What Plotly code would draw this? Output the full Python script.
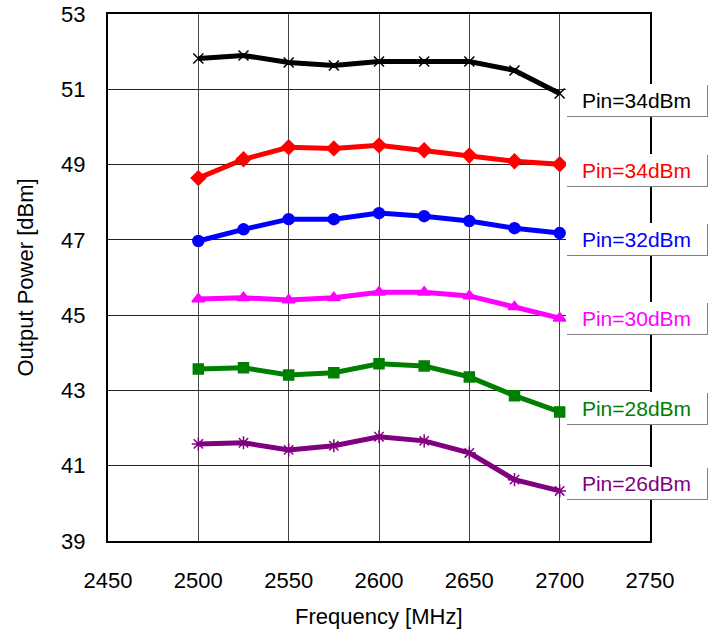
import plotly.graph_objects as go

freq = [2500, 2525, 2550, 2575, 2600, 2625, 2650, 2675, 2700]
p34a = [51.82, 51.90, 51.71, 51.63, 51.74, 51.74, 51.74, 51.50, 50.89]
p34b = [48.64, 49.14, 49.46, 49.43, 49.51, 49.38, 49.24, 49.09, 49.01]
p32 = [46.97, 47.28, 47.55, 47.55, 47.71, 47.63, 47.50, 47.31, 47.18]
p30 = [45.43, 45.46, 45.40, 45.46, 45.61, 45.61, 45.51, 45.22, 44.92]
p28 = [43.57, 43.60, 43.41, 43.47, 43.71, 43.65, 43.36, 42.86, 42.43]
p26 = [41.58, 41.61, 41.42, 41.53, 41.77, 41.66, 41.34, 40.63, 40.33]

series = [
    ("Pin=34dBm", p34a, "#000000", "x-thin-open", 10),
    ("Pin=34dBm", p34b, "#ff0000", "diamond", 11),
    ("Pin=32dBm", p32, "#0000ff", "circle", 11),
    ("Pin=30dBm", p30, "#ff00ff", "triangle-up", 11),
    ("Pin=28dBm", p28, "#008000", "square", 10),
    ("Pin=26dBm", p26, "#800080", "asterisk-open", 11),
]
label_y = [50.71, 48.85, 47.02, 44.92, 42.54, 40.55]

fig = go.Figure()
for (name, ys, col, sym, sz) in series:
    fig.add_trace(go.Scatter(
        x=freq, y=ys, mode="lines+markers", name=name,
        line=dict(color=col, width=5),
        marker=dict(symbol=sym, size=sz, color=col,
                    line=dict(color=col, width=1.5)),
        showlegend=False,
    ))

lab_font = "Liberation Sans, Arial"
for (name, ys, col, sym, sz), ly in zip(series, label_y):
    # gray "shadow" box giving right and bottom edges
    fig.add_annotation(
        x=1.0, xref="paper", y=ly, yref="y", xanchor="left", yanchor="middle",
        xshift=-83, yshift=-1, text=" ", showarrow=False,
        bgcolor="#808080", borderwidth=0, borderpad=0,
        width=141, height=32,
    )
    fig.add_annotation(
        x=1.0, xref="paper", y=ly, yref="y", xanchor="left", yanchor="middle",
        xshift=-84, text=name, showarrow=False,
        font=dict(family=lab_font, size=21, color=col),
        bgcolor="white", borderwidth=0, borderpad=0,
        width=141, height=32,
    )

axis_font = dict(family=lab_font, size=22, color="black")

# axis titles
fig.add_annotation(
    x=0.5, xref="paper", y=0, yref="paper", xanchor="center", yanchor="middle",
    yshift=-75, text="Frequency [MHz]", showarrow=False, font=axis_font,
)
fig.add_annotation(
    x=0, xref="paper", y=0.5, yref="paper", xanchor="center", yanchor="middle",
    xshift=-83, text="Output Power [dBm]", textangle=-90, showarrow=False,
    font=axis_font,
)

fig.update_layout(
    width=715, height=634,
    margin=dict(l=108, r=65, t=14, b=93, autoexpand=False),
    paper_bgcolor="white", plot_bgcolor="white",
    xaxis=dict(
        range=[2450, 2750], dtick=50, tick0=2450,
        showgrid=True, gridcolor="#444444", gridwidth=1,
        showline=True, linecolor="black", linewidth=2, mirror=True,
        ticks="", tickfont=axis_font, ticklabelstandoff=19,
        automargin=False, zeroline=False,
    ),
    yaxis=dict(
        range=[39, 53], dtick=2, tick0=39,
        showgrid=True, gridcolor="#222222", gridwidth=1,
        showline=True, linecolor="black", linewidth=2, mirror=True,
        ticks="", tickfont=axis_font, ticklabelstandoff=16,
        automargin=False, zeroline=False,
    ),
)

fig.write_html("out.html")
